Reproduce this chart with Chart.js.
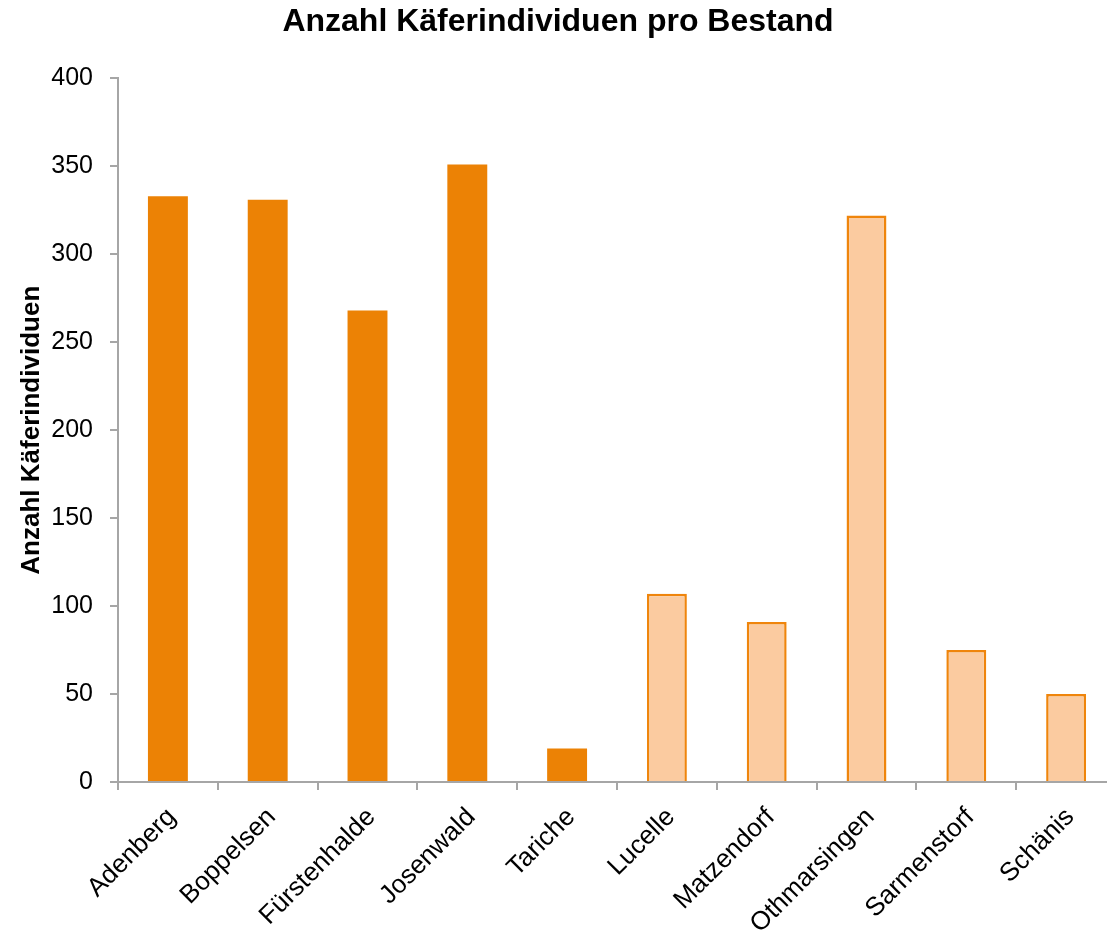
<!DOCTYPE html>
<html>
<head>
<meta charset="utf-8">
<script src="https://cdn.jsdelivr.net/npm/chart.js@4"></script>
<style>
  html, body { margin: 0; padding: 0; background: #fff; overflow: hidden; }
  #wrap { width: 1107px; height: 930px; overflow: hidden; }
</style>
</head>
<body>
<div id="wrap"><canvas id="myChart" width="1120" height="930"></canvas></div>
<script>
const categories = ["Adenberg", "Boppelsen", "Fürstenhalde", "Josenwald", "Tariche",
    "Lucelle", "Matzendorf", "Othmarsingen", "Sarmenstorf", "Schänis"];
const beetleCounts = [333, 331, 268, 351, 19, 107, 91, 322, 75, 50];
// Bestandstyp pro Kategorie (A = dunkel, B = hell)
const groups = ["A", "A", "A", "A", "A", "B", "B", "B", "B", "B"];
const yTicks = [0, 50, 100, 150, 200, 250, 300, 350, 400];

const fillColors = { A: "#ec8205", B: "#fbcba0" };
const edgeColors = { A: "#ec8205", B: "#ef850c" };
const axisGray = "#a6a6a6";
const fontFamily = "'Liberation Sans', Arial, sans-serif";

const chart = new Chart("myChart", {
    type: "bar",
    data: {
        labels: categories,
        datasets: [{
            data: beetleCounts,
            backgroundColor: ctx => fillColors[groups[ctx.dataIndex]],
            borderColor: ctx => edgeColors[groups[ctx.dataIndex]],
            borderWidth: ctx => groups[ctx.dataIndex] === "B" ? 2.5 : 0,
            barPercentage: 0.4,
            categoryPercentage: 1.0
        }]
    },
    options: {
        responsive: false,
        animation: false,
        layout: { padding: { left: 0, right: 4, top: 0, bottom: 0 } },
        plugins: {
            legend: { display: false },
            tooltip: { enabled: false },
            title: {
                display: true,
                text: "Anzahl Käferindividuen pro Bestand",
                color: "#000",
                font: { family: fontFamily, size: 32, weight: "bold" },
                padding: { top: 3, bottom: 37 }
            }
        },
        scales: {
            x: {
                grid: {
                    offset: true,
                    drawOnChartArea: false,
                    color: axisGray,
                    lineWidth: 2,
                    tickLength: 8
                },
                border: { color: axisGray, width: 2 },
                ticks: {
                    color: "#000",
                    font: { family: fontFamily, size: 26 },
                    maxRotation: 45,
                    minRotation: 45,
                    autoSkip: false,
                    padding: 12,
                    labelOffset: 4
                },
                afterFit: scale => { scale.height = 148; }
            },
            y: {
                min: 0,
                max: 400,
                afterBuildTicks: scale => { scale.ticks = yTicks.map(v => ({ value: v })); },
                grid: {
                    drawOnChartArea: false,
                    color: axisGray,
                    lineWidth: 2,
                    tickLength: 8
                },
                border: { color: axisGray, width: 2 },
                ticks: {
                    color: "#000",
                    font: { family: fontFamily, size: 25 },
                    padding: 17
                },
                title: {
                    display: true,
                    text: "Anzahl Käferindividuen",
                    color: "#000",
                    font: { family: fontFamily, size: 26, weight: "bold" },
                    padding: { top: 16, bottom: 0 }
                },
                afterFit: scale => { scale.width = 118; }
            }
        }
    }
});
</script>
</body>
</html>
